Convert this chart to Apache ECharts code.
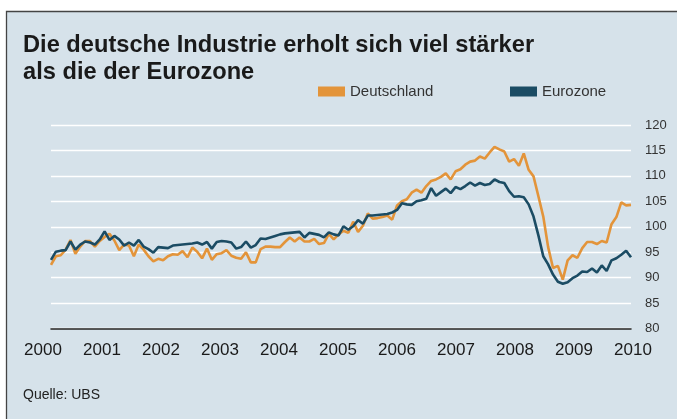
<!DOCTYPE html>
<html>
  <head>
    <meta charset="UTF-8" />
    <title>Deutsche Industrie vs. Eurozone</title>
    <script src="https://cdn.jsdelivr.net/npm/echarts@6.0.0/dist/echarts.min.js"></script>
    <style>
      html, body { margin: 0; padding: 0; background: #fff; }
    </style>
  </head>
  <body>
    <div id="chart" style="width: 677px; height: 419px"></div>
  </body>
  <script>
// monthly index values, Jan 2000 - Dec 2009
const deutschland = [
  92.5, 94.2, 94.4, 95.5, 97.4, 94.7, 96.1, 97.2, 97.2, 96.1, 97.2, 98.0,
  98.6, 97.3, 95.4, 96.5, 96.3, 94.2, 96.5, 95.5, 94.2, 93.2, 93.7, 93.4,
  94.2, 94.6, 94.5, 95.2, 94.0, 95.9, 95.1, 93.8, 95.7, 93.5, 94.6, 94.8,
  95.4, 94.3, 93.9, 93.7, 95.0, 93.0, 93.0, 95.6, 96.1, 96.1, 96.0, 96.0,
  97.0, 97.9, 97.1, 97.9, 97.1, 97.1, 97.6, 96.6, 96.8, 98.6, 97.5, 98.5,
  99.2, 98.8, 101.0, 99.0, 100.2, 102.6, 101.6, 101.7, 101.9, 102.2, 101.4, 104.2,
  105.0, 105.4, 106.7, 107.3, 106.7, 108.0, 109.0, 109.3, 109.8, 110.5, 109.3, 110.9,
  111.3, 112.2, 112.8, 113.0, 113.8, 113.4, 114.6, 115.7, 115.2, 114.8, 112.8, 113.3,
  112.0, 114.4, 111.2, 109.9, 106.0, 102.0, 96.0, 91.9, 92.3, 89.6, 93.4, 94.4,
  93.9, 95.8, 97.0, 97.0, 96.6, 97.2, 96.9, 100.5, 101.9, 104.8, 104.2, 104.3
];
const eurozone = [
  93.5, 95.1, 95.3, 95.4, 97.1, 95.5, 96.5, 97.1, 96.9, 96.5, 97.5, 99.1,
  97.4, 98.2, 97.5, 96.3, 96.9, 96.3, 97.4, 96.1, 95.6, 94.9, 96.0, 95.9,
  95.8, 96.3, 96.4, 96.5, 96.6, 96.7, 96.9, 96.5, 97.0, 95.7, 97.0, 97.2,
  97.1, 96.9, 95.7, 96.0, 97.1, 95.9, 96.4, 97.7, 97.6, 97.9, 98.2, 98.5,
  98.7, 98.8, 98.9, 99.0, 97.9, 98.8, 98.6, 98.4, 97.9, 98.9, 98.5, 98.3,
  100.1, 99.4, 100.1, 101.3, 100.6, 102.2, 102.2, 102.3, 102.4, 102.5, 102.8, 103.3,
  104.6, 104.4, 104.3, 105.0, 105.2, 105.5, 107.6, 106.1, 106.8, 107.5, 106.6, 107.8,
  107.4, 108.0, 108.7, 108.1, 108.6, 108.2, 108.4, 109.3, 108.8, 108.6, 107.0, 105.9,
  106.0, 105.8, 104.4, 102.0, 98.3, 94.2, 92.6, 90.6, 89.2, 88.8, 89.1, 89.9,
  90.4, 91.2, 91.1, 91.8, 91.0, 92.4, 91.3, 93.4, 93.8, 94.5, 95.3, 94.0
];
const years = [2000, 2001, 2002, 2003, 2004, 2005, 2006, 2007, 2008, 2009];
const months = [];
years.forEach(y => {
  for (let m = 1; m <= 12; m++) months.push(y + '-' + (m < 10 ? '0' + m : m));
});

const orange = '#e3943a';
const blue = '#1b4c64';
const legendText = { fontSize: 15, color: '#333', fontFamily: 'Liberation Sans' };

let myChart = echarts.init(document.getElementById('chart'));
myChart.setOption({
  animation: false,
  backgroundColor: '#d6e2ea',
  title: {
    text: 'Quelle: UBS',
    left: 23, top: 388, padding: 0,
    textStyle: { fontSize: 14, fontWeight: 'normal', color: '#222', fontFamily: 'Liberation Sans' }
  },
  legend: [
    { data: ['Deutschland'], left: 318, top: 84, padding: 0, icon: 'rect', itemWidth: 27, itemHeight: 10, selectedMode: false, textStyle: legendText },
    { data: ['Eurozone'], left: 510, top: 84, padding: 0, icon: 'rect', itemWidth: 27, itemHeight: 10, selectedMode: false, textStyle: legendText }
  ],
  graphic: [
    { type: 'rect', shape: { x: 0, y: 0, width: 677, height: 11 }, style: { fill: '#fff' } },
    { type: 'rect', shape: { x: 0, y: 0, width: 6, height: 419 }, style: { fill: '#fff' } },
    { type: 'polyline', shape: { points: [[6.5, 419], [6.5, 11.5], [677, 11.5]] }, style: { stroke: '#444', lineWidth: 1.3, fill: null } },
    // headline, slightly condensed like the original face
    {
      type: 'text', x: 23, y: 32, scaleX: 0.965,
      style: {
        text: 'Die deutsche Industrie erholt sich viel stärker\nals die der Eurozone',
        fontSize: 24.5, fontWeight: 'bold', fontFamily: 'Liberation Sans',
        lineHeight: 26.7, fill: '#1a1a1a', verticalAlign: 'top'
      }
    }
  ],
  grid: [
    { left: 51, right: 46, top: 125, bottom: 90.5 },
    { left: 43, right: 44, top: 125, bottom: 90.5 }
  ],
  xAxis: [
    {
      gridIndex: 0, type: 'category', data: months, boundaryGap: false,
      axisLine: { lineStyle: { color: '#222', width: 1.5 } },
      axisTick: { show: false }, axisLabel: { show: false }, splitLine: { show: false }
    },
    {
      gridIndex: 1, type: 'value', min: 2000, max: 2010, interval: 1,
      axisLine: { show: false }, axisTick: { show: false }, splitLine: { show: false },
      axisLabel: { fontSize: 17, color: '#1a1a1a', margin: 13, fontFamily: 'Liberation Sans', formatter: v => String(v) }
    }
  ],
  yAxis: [
    {
      gridIndex: 0, type: 'value', position: 'right', min: 80, max: 120, interval: 5,
      axisLine: { show: false }, axisTick: { show: false },
      splitLine: { lineStyle: { color: '#fff', width: 1.3 } },
      axisLabel: { fontSize: 13, color: '#333', margin: 14, fontFamily: 'Liberation Sans' }
    },
    { gridIndex: 1, type: 'value', show: false, min: 0, max: 1 }
  ],
  series: [
    {
      name: 'Deutschland', type: 'line', xAxisIndex: 0, yAxisIndex: 0, data: deutschland,
      showSymbol: false, lineStyle: { color: orange, width: 2.6 }, itemStyle: { color: orange }
    },
    {
      name: 'Eurozone', type: 'line', xAxisIndex: 0, yAxisIndex: 0, data: eurozone,
      showSymbol: false, lineStyle: { color: blue, width: 2.6 }, itemStyle: { color: blue }
    }
  ]
});
  </script>
</html>
